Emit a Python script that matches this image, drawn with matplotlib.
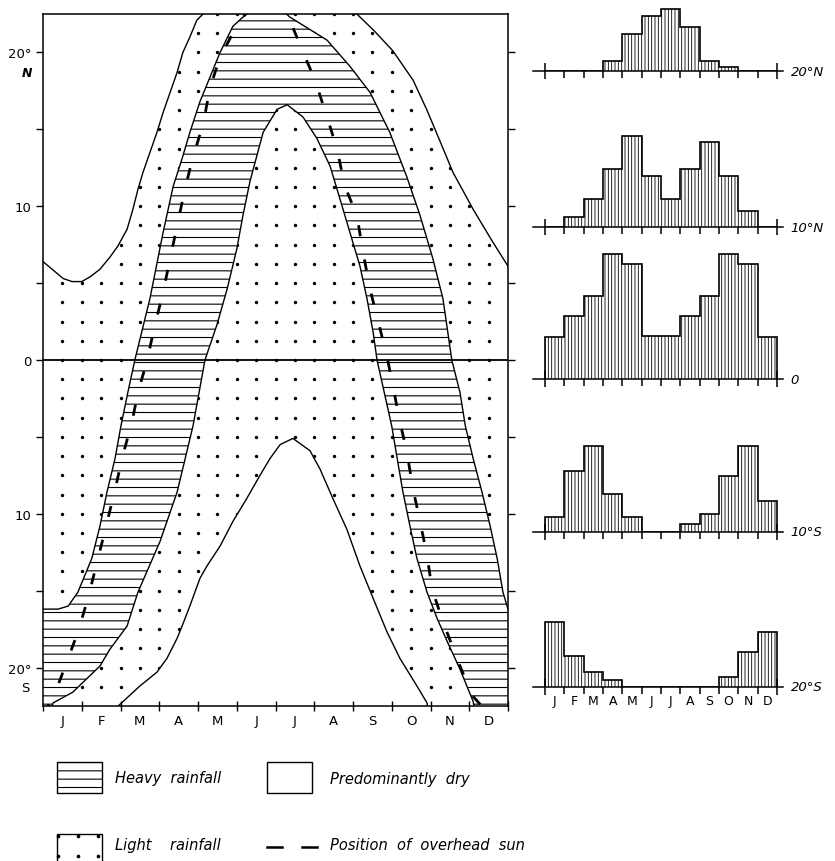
import matplotlib

matplotlib.use("Agg")
import matplotlib.pyplot as plt
import numpy as np
from matplotlib.patches import Polygon, Rectangle

plt.rcParams["hatch.linewidth"] = 0.8
plt.rcParams["font.family"] = "DejaVu Sans"

MONTHS = ["J", "F", "M", "A", "M", "J", "J", "A", "S", "O", "N", "D"]

# main panel: x = months since 1 Jan, y = latitude (deg, + north)
dry_north_x = [0.0, 0.52, 0.75, 1.0, 1.21, 1.47, 1.73, 1.93, 2.17, 2.32, 2.45, 2.58,
               2.76, 2.94, 3.1, 3.28, 3.46, 3.61, 3.79, 3.97, 4.13, 4.5, 6.0, 7.7,
               8.1, 8.55, 9.03, 9.55, 9.9, 10.25, 10.58, 11.1, 11.6, 12.0]
dry_north_y = [6.4, 5.3, 5.1, 5.1, 5.4, 5.9, 6.7, 7.4, 8.5, 9.8, 11.1, 12.2,
               13.5, 14.8, 16.1, 17.4, 18.7, 20.0, 21.0, 22.1, 22.5, 24.0, 26.0, 24.0,
               22.5, 21.4, 20.1, 18.2, 16.3, 14.2, 12.2, 9.8, 7.7, 6.1]

heavy_outer_x = [0.0, 0.39, 0.65, 0.9, 1.08, 1.26, 1.47, 1.65, 1.86, 2.01, 2.19, 2.37,
                 2.76, 3.1, 3.36, 3.59, 3.79, 4.05, 4.31, 4.57, 4.9, 5.16, 5.8,
                 6.37, 7.33, 7.92, 8.44, 8.95, 9.39, 9.73, 10.06, 10.32, 10.55, 10.76,
                 10.9, 11.1, 11.33, 11.54, 11.72, 11.87, 12.0]
heavy_outer_y = [-16.2, -16.2, -16.0, -15.1, -14.0, -12.9, -10.8, -8.6, -6.4, -4.3, -2.1, 0.0,
                 4.0, 8.3, 11.3, 13.1, 14.8, 16.8, 18.4, 20.0, 21.7, 22.3, 23.6,
                 22.3, 20.8, 19.1, 17.4, 14.8, 11.9, 9.4, 6.6, 4.0, 0.0, -2.1,
                 -4.3, -6.4, -8.6, -10.8, -12.9, -15.1, -16.2]

heavy_inner_x = [0.18, 0.26, 0.77, 1.14, 1.47, 1.73, 2.17, 2.45, 3.02, 3.46, 3.87, 4.18,
                 4.49, 4.75, 5.0, 5.16, 5.34, 5.68, 6.04, 6.3, 6.71, 7.07, 7.41, 7.66,
                 7.92, 8.18, 8.36, 8.52, 8.62, 9.0, 9.14, 9.29, 9.47, 9.65, 9.91,
                 10.17, 10.43, 10.76, 11.1, 11.16]
heavy_inner_y = [-23.0, -22.3, -21.6, -20.7, -19.9, -18.8, -17.3, -15.1, -11.8, -8.6, -4.3, 0.0,
                 2.3, 4.6, 7.2, 9.4, 11.6, 14.8, 16.3, 16.6, 15.8, 14.4, 12.6, 10.5,
                 8.3, 6.1, 4.0, 1.8, 0.0, -4.3, -6.4, -8.6, -10.8, -12.9, -15.1,
                 -16.8, -18.3, -20.1, -22.2, -23.0]

dry_south_x = [1.9, 1.94, 2.5, 2.94, 3.2, 3.46, 3.59, 3.79, 4.05, 4.23, 4.57, 4.9, 5.26,
               5.6, 5.86, 6.12, 6.45, 6.89, 7.15, 7.48, 7.84, 8.18, 8.52, 8.88, 9.21,
               9.65, 9.91, 9.95]
dry_south_y = [-23.0, -22.5, -21.2, -20.3, -19.4, -18.1, -17.3, -16.0, -14.2, -13.4, -12.1, -10.5, -9.0,
               -7.5, -6.4, -5.5, -5.1, -5.9, -7.1, -9.0, -11.0, -13.4, -15.5, -17.7, -19.4,
               -21.2, -22.3, -23.0]

sun_x = [0.0, 0.26, 0.62, 0.9, 1.16, 1.39, 1.63, 1.88, 2.06, 2.3, 2.45, 2.68, 2.89, 3.1,
         3.28, 3.46, 3.66, 3.87, 4.13, 4.31, 4.57, 5.08, 5.5, 6.0, 6.37, 6.68, 7.02,
         7.33, 7.59, 7.79, 8.1, 8.26, 8.44, 8.88, 9.03, 9.21, 9.39, 9.55, 9.73, 9.91,
         10.04, 10.32, 10.68, 11.07, 11.5, 12.0]
sun_y = [-23.0, -22.0, -19.6, -17.7, -15.5, -13.2, -10.8, -8.2, -6.2, -4.0, -2.1, -0.1, 2.3, 4.4,
         6.6, 8.7, 11.1, 13.2, 15.3, 17.7, 19.7, 22.1, 23.2, 23.3, 22.1, 20.2, 18.2,
         15.8, 13.7, 11.3, 9.4, 7.0, 4.6, 0.2, -1.7, -4.0, -6.0, -8.4, -10.5, -12.7,
         -14.9, -17.0, -19.4, -21.8, -23.0, -23.2]

# monthly rainfall profiles (relative units) at five latitudes
hist_labels = ["20°N", "10°N", "0", "10°S", "20°S"]
rain_20n = [0, 0, 0, 10, 37, 55, 62, 44, 10, 4, 0, 0]
rain_10n = [0, 10, 28, 58, 91, 51, 28, 58, 85, 51, 16, 0]
rain_eq = [42, 63, 83, 125, 115, 43, 43, 63, 83, 125, 115, 42]
rain_10s = [15, 61, 86, 38, 15, 0, 0, 8, 18, 56, 86, 31]
rain_20s = [65, 31, 15, 7, 0, 0, 0, 0, 0, 10, 35, 55]
hist_series = [rain_20n, rain_10n, rain_eq, rain_10s, rain_20s]

W, H = 835, 862
fig = plt.figure(figsize=(W / 100, H / 100), dpi=100)

# ---- main latitude/month panel ----
ax = fig.add_axes([43 / W, 1 - 707 / H, 465 / W, 692 / H])
ax.set_xlim(0, 12)
ax.set_ylim(-22.5, 22.5)

gx, gy = np.meshgrid(np.arange(0.5, 12, 0.5), np.arange(-21.25, 22.6, 1.25))
ax.scatter(gx.ravel(), gy.ravel(), s=6, color="black", zorder=1, linewidths=0)

ax.add_patch(Polygon(list(zip(dry_north_x, dry_north_y)) + [(12, 30), (0, 30)],
                     closed=True, fc="white", ec="none", zorder=1.5))
ax.add_patch(Polygon(list(zip(dry_south_x, dry_south_y)) + [(10, -30), (1.9, -30)],
                     closed=True, fc="white", ec="none", zorder=1.5))
heavy_pts = (list(zip(heavy_outer_x, heavy_outer_y)) + [(12, -30)]
             + list(zip(heavy_inner_x, heavy_inner_y))[::-1] + [(0, -30)])
ax.add_patch(Polygon(heavy_pts, closed=True, fc="white", ec="black", lw=0,
                     hatch="--", zorder=1.6))

for xs, ys in [(dry_north_x, dry_north_y), (heavy_outer_x, heavy_outer_y),
               (heavy_inner_x, heavy_inner_y), (dry_south_x, dry_south_y)]:
    ax.plot(xs, ys, color="black", lw=1.0, zorder=3)

ax.axhline(0, color="black", lw=1.3, zorder=3)
ax.plot(sun_x, sun_y, color="black", lw=2.0, linestyle=(0, (4, 8.5)), zorder=4)

for s in ax.spines.values():
    s.set_linewidth(1.1)
    s.set_zorder(5)

ax.set_xticks(range(13))
ax.set_xticklabels([])
ax.set_xticks(np.arange(0.5, 12, 1), minor=True)
ax.set_xticklabels(MONTHS, minor=True, fontsize=9.5)
ax.tick_params(axis="x", which="major", direction="inout", length=7, width=1)
ax.tick_params(axis="x", which="minor", length=0, pad=6)
ax.set_yticks(range(-20, 21, 5))
ax.set_yticklabels(["20°", "", "10", "", "0", "", "10", "", "20°"], fontsize=9.5)
ax.tick_params(axis="y", direction="out", length=5, width=1, right=True)
ax.text(-0.034, 18.7, "N", transform=ax.get_yaxis_transform(), ha="center",
        va="center", fontsize=9, style="italic", fontweight="bold")
ax.text(-0.038, -21.3, "S", transform=ax.get_yaxis_transform(), ha="center",
        va="center", fontsize=9.5)

# ---- monthly histograms ----
base_px = [72, 228, 380, 533, 688]
for vals, label, base in zip(hist_series, hist_labels, base_px):
    plt.rcParams["hatch.linewidth"] = 0.6
    hax = fig.add_axes([533 / W, 1 - base / H, 250 / W, 130 / H])
    hax.patch.set_visible(False)
    hax.set_xlim(-0.62, 12.31)
    hax.set_ylim(0, 130)
    hax.stairs(vals, np.arange(13), fill=True, fc="white", ec="black", lw=1.2,
               hatch="|||||")
    for side in ["top", "left", "right"]:
        hax.spines[side].set_visible(False)
    hax.spines["bottom"].set_linewidth(1.1)
    hax.set_yticks([])
    hax.set_xticks([0, 12])
    hax.set_xticklabels([])
    hax.set_xticks(range(1, 12), minor=True)
    hax.tick_params(axis="x", which="major", direction="inout", length=11, width=1.1)
    hax.tick_params(axis="x", which="minor", direction="out", length=5, width=1.1)
    hax.text(1.03, 0, label, transform=hax.transAxes, ha="left", va="center",
             fontsize=9.5, style="italic")
    if label == "20°S":
        for i, m in enumerate(MONTHS):
            hax.text(i + 0.5, -14, m, ha="center", va="center", fontsize=9,
                     clip_on=False)

# ---- legend ----
plt.rcParams["hatch.linewidth"] = 0.8
lax = fig.add_axes([0, 0, 1, 1])
lax.set_xlim(0, W)
lax.set_ylim(H, 0)
lax.axis("off")
lax.patch.set_visible(False)
lax.add_patch(Rectangle((57, 763), 45, 31, fc="white", ec="black", lw=1.0, hatch="--"))
lax.add_patch(Rectangle((267, 763), 45, 31, fc="white", ec="black", lw=1.0))
lax.add_patch(Rectangle((57, 835), 45, 40, fc="white", ec="black", lw=1.0))
lax.scatter([58, 78, 98, 58, 78, 98], [837, 837, 837, 857, 857, 857], s=7,
            color="black", linewidths=0)
lax.plot([267, 282], [848, 848], color="black", lw=1.8)
lax.plot([302, 317], [848, 848], color="black", lw=1.8)
lax.text(115, 779, "Heavy  rainfall", va="center", fontsize=10.5, style="italic")
lax.text(330, 780, "Predominantly  dry", va="center", fontsize=10.5, style="italic")
lax.text(115, 846, "Light    rainfall", va="center", fontsize=10.5, style="italic")
lax.text(330, 846, "Position  of  overhead  sun", va="center", fontsize=10.5,
         style="italic")

fig.savefig("out.png", dpi=100)
